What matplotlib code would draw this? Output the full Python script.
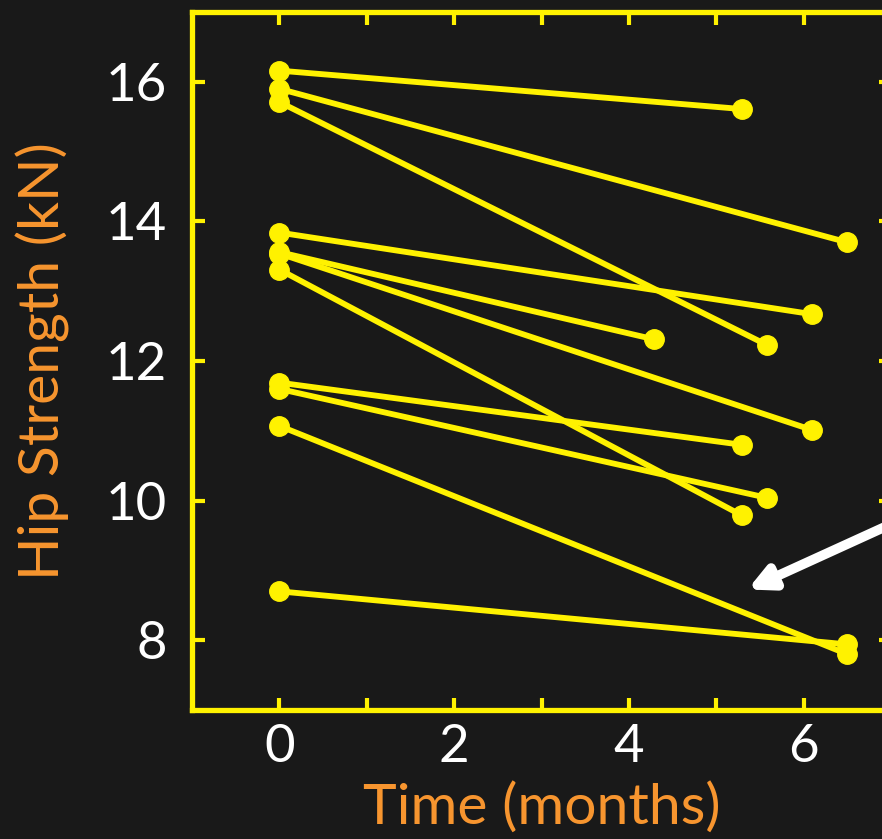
import numpy as np
import matplotlib.pyplot as plt

# Dados: tempo (meses) e força do quadril (kN) em cada visita
tempo_inicio = [0, 0, 0, 0, 0, 0, 0, 0, 0, 0, 0]
forca_inicio = [16.16, 15.90, 15.71, 13.84, 13.56, 13.54, 13.31, 11.69, 11.60, 11.07, 8.70]
tempo_fim = [5.29, 6.50, 5.58, 6.10, 4.29, 6.10, 5.29, 5.29, 5.58, 6.50, 6.50]
forca_fim = [15.61, 13.70, 12.23, 12.67, 12.31, 11.01, 9.79, 10.80, 10.04, 7.80, 7.94]

x_ticks = [0, 1, 2, 3, 4, 5, 6]
x_labels = ['0', '', '2', '', '4', '', '6']
y_ticks = [8, 10, 12, 14, 16]

fundo = '#191919'
amarelo = '#FFF200'
laranja = '#F7952F'

plt.rcParams['font.family'] = ['Lato', 'DejaVu Sans']

fig = plt.figure(figsize=(8.82, 8.39), dpi=100, facecolor=fundo)
W, H = 882, 839
ax = fig.add_axes([192 / W, (H - 710) / H, (891 - 192) / W, (710 - 12) / H])
ax.set_facecolor(fundo)

for x0, y0, x1, y1 in zip(tempo_inicio, forca_inicio, tempo_fim, forca_fim):
    ax.plot([x0, x1], [y0, y1], color=amarelo, lw=4.2, marker='o', ms=14,
            solid_capstyle='round', clip_on=False)

ax.set_xlim(-1, 7)
ax.set_ylim(7, 17)
ax.set_xticks(x_ticks)
ax.set_xticklabels(x_labels)
ax.set_yticks(y_ticks)

for s in ax.spines.values():
    s.set_color(amarelo)
    s.set_linewidth(3.8)

ax.tick_params(direction='in', length=9, width=3, color=amarelo,
               top=True, right=True, labelcolor='white', labelsize=38)
ax.tick_params(axis='x', pad=10)
ax.tick_params(axis='y', pad=18)

ax.set_xlabel('Time (months)', color=laranja, fontsize=41, labelpad=8)
ax.set_ylabel('Hip Strength (kN)', color=laranja, fontsize=41, labelpad=26)

# seta branca vindo da direita
ax.annotate('', xy=(5.33, 8.71), xytext=(7.1, 9.72), annotation_clip=False,
            arrowprops=dict(arrowstyle='-|>,head_length=1.4,head_width=0.7',
                            color='white', lw=7))

fig.savefig('out.png', dpi=100, facecolor=fundo)
